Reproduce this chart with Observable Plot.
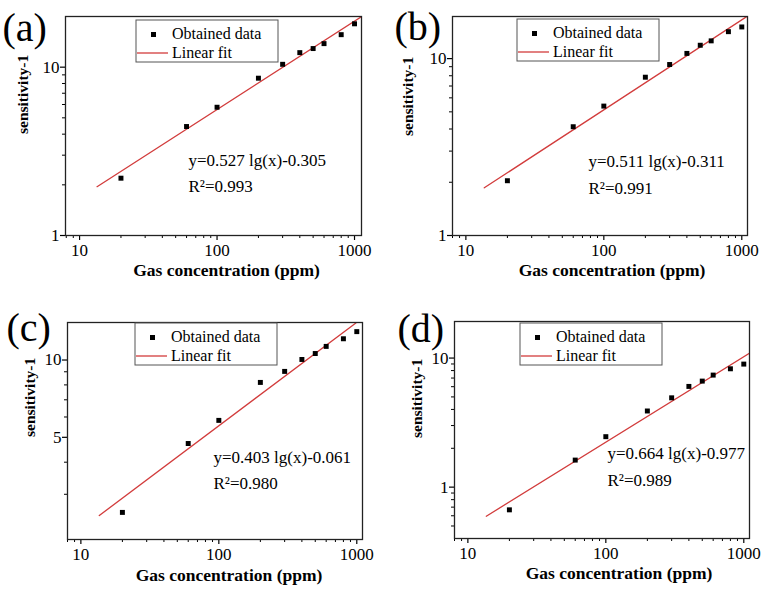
<!DOCTYPE html>
<html><head><meta charset="utf-8">
<script src="https://cdn.jsdelivr.net/npm/d3@7"></script>
<script src="https://cdn.jsdelivr.net/npm/@observablehq/plot@0.6"></script>
<style>
body{margin:0;background:#fff;}
#wrap{position:relative;width:763px;height:592px;background:#fff;overflow:hidden;}
#wrap > svg{position:absolute;}
</style></head><body><div id="wrap"></div>
<script>
// ---- data ----
const concentration = [20, 60, 100, 200, 300, 400, 500, 600, 800, 1000];
const sensitivityA = [2.19, 4.44, 5.78, 8.6, 10.4, 12.2, 12.9, 13.8, 15.6, 18.1];
const sensitivityB = [2.04, 4.12, 5.39, 7.85, 9.26, 10.7, 11.9, 12.6, 14.2, 15.1];
const sensitivityC = [2.55, 4.73, 5.82, 8.18, 9.03, 10.05, 10.6, 11.3, 12.1, 12.9];
const sensitivityD = [0.667, 1.62, 2.46, 3.89, 4.92, 6.03, 6.63, 7.38, 8.26, 8.98];
// linear-fit segments (start / end points)
const fitConcA = [13.4, 1120];  const fitSensA = [1.95, 19.9];
const fitConcB = [13.6, 1100];  const fitSensB = [1.86, 17.4];
const fitConcC = [13.6, 985];   const fitSensC = [2.48, 13.95];
const fitConcD = [13.6, 1099];  const fitSensD = [0.595, 10.9];
const panelLabels = ["(a)", "(b)", "(c)", "(d)"];
const equations = ["y=0.527 lg(x)-0.305", "y=0.511 lg(x)-0.311", "y=0.403 lg(x)-0.061", "y=0.664 lg(x)-0.977"];
const r2Labels = ["R\u00B2=0.993", "R\u00B2=0.991", "R\u00B2=0.980", "R\u00B2=0.989"];
const xTickValues = [10, 100, 1000];
const xMinorTicks = [8, 9, 20, 30, 40, 50, 60, 70, 80, 90, 200, 300, 400, 500, 600, 700, 800, 900];
const yTicksA = [1, 10], yTicksB = [1, 10], yTicksC = [5, 10], yTicksD = [1, 10];
const yMinorAB = [2, 3, 4, 5, 6, 7, 8, 9];
const yMinorC = [3, 4, 6, 7, 8, 9];
const yMinorD = [0.5, 0.6, 0.7, 0.8, 0.9, 2, 3, 4, 5, 6, 7, 8, 9];
const xTitle = "Gas concentration (ppm)";
const yTitle = "sensitivity-1";
const legendLabels = ["Obtained data", "Linear fit"];

// ---- layout ----
const SERIF = "'Liberation Serif','Times New Roman',serif";
const panels = [
  {left:0, top:0, w:380, h:296, ml:65, mr:19, mt:16, mb:61, xd:[7.9,1124], yd:[1,20], vals:sensitivityA, fc:fitConcA, fs:fitSensA, yt:yTicksA, ym:yMinorAB,
   lab:{x:2,b:40}, leg:{dx:71,dy:4}, eq:{dx:123,b1:149,b2:175}, xt:{dx:13,dy:40}, ytl:{dx:-42,dy:8}},
  {left:380, top:0, w:383, h:296, ml:72, mr:16, mt:16, mb:61, xd:[8,1100], yd:[1,17.3], vals:sensitivityB, fc:fitConcB, fs:fitSensB, yt:yTicksB, ym:yMinorAB,
   lab:{x:14,b:39}, leg:{dx:65,dy:3}, eq:{dx:136,b1:150,b2:177}, xt:{dx:12,dy:40}, ytl:{dx:-44,dy:10}},
  {left:0, top:300, w:380, h:292, ml:67, mr:18, mt:22, mb:53, xd:[8,1100], yd:[2,14], vals:sensitivityC, fc:fitConcC, fs:fitSensC, yt:yTicksC, ym:yMinorC,
   lab:{x:6,b:40}, leg:{dx:68,dy:1}, eq:{dx:146,b1:140,b2:166}, xt:{dx:14,dy:41}, ytl:{dx:-37,dy:6}},
  {left:380, top:300, w:383, h:292, ml:74, mr:14, mt:21, mb:54, xd:[8,1100], yd:[0.4,19.2], vals:sensitivityD, fc:fitConcD, fs:fitSensD, yt:yTicksD, ym:yMinorD,
   lab:{x:17,b:41}, leg:{dx:66,dy:2}, eq:{dx:153,b1:137,b2:164}, xt:{dx:17,dy:40}, ytl:{dx:-37,dy:8}}
];

const wrap = document.getElementById("wrap");
panels.forEach((p, i) => {
  const pts = concentration.map((c, k) => ({c, s: p.vals[k]}));
  const fit = p.fc.map((c, k) => ({c, s: p.fs[k]}));
  const xm = xMinorTicks.filter(v => v >= p.xd[0] && v <= p.xd[1]);
  const ym = p.ym.filter(v => v >= p.yd[0] && v <= p.yd[1]);
  const svg = Plot.plot({
    width: p.w, height: p.h,
    marginLeft: p.ml, marginRight: p.mr, marginTop: p.mt, marginBottom: p.mb,
    style: {fontFamily: SERIF, fontSize: "17px", color: "#000", background: "transparent", overflow: "visible"},
    x: {type: "log", domain: p.xd},
    y: {type: "log", domain: p.yd},
    marks: [
      Plot.axisX({ticks: xm, tickSize: 3, tickFormat: () => "", label: null, strokeWidth: 1}),
      Plot.axisX({ticks: xTickValues, tickSize: 5, tickPadding: 3, tickFormat: d => String(d), label: null, strokeWidth: 1.2}),
      Plot.axisY({ticks: ym, tickSize: 3, tickFormat: () => "", label: null, strokeWidth: 1}),
      Plot.axisY({ticks: p.yt, tickSize: 5, tickPadding: 1, tickFormat: d => String(d), label: null, strokeWidth: 1.2}),
      Plot.line(fit, {x: "c", y: "s", stroke: "#d23c3c", strokeWidth: 1.3, clip: true}),
      Plot.dot(pts, {x: "c", y: "s", symbol: "square", fill: "#000", r: 2.8}),
      Plot.frame({stroke: "#222", strokeWidth: 1.3}),
      Plot.text([equations[i]], {text: d => d, frameAnchor: "top-left", dx: p.eq.dx, dy: p.eq.b1, textAnchor: "start", lineAnchor: "bottom", fontSize: 17}),
      Plot.text([r2Labels[i]], {text: d => d, frameAnchor: "top-left", dx: p.eq.dx, dy: p.eq.b2, textAnchor: "start", lineAnchor: "bottom", fontSize: 17}),
      Plot.text([xTitle], {text: d => d, frameAnchor: "bottom", dx: p.xt.dx, dy: p.xt.dy, lineAnchor: "bottom", fontWeight: "bold", fontSize: 17.5}),
      Plot.text([yTitle], {text: d => d, frameAnchor: "left", dx: p.ytl.dx, dy: p.ytl.dy, rotate: -90, fontWeight: "bold", fontSize: 15.5}),
      Plot.text([panelLabels[i]], {text: d => d, frameAnchor: "top-left", dx: p.lab.x - p.ml, dy: p.lab.b - p.mt, textAnchor: "start", lineAnchor: "bottom", fontSize: 40})
    ]
  });
  svg.style.left = p.left + "px";
  svg.style.top = p.top + "px";
  // legend box
  const s = d3.select(svg);
  const bx = p.ml + p.leg.dx, by = p.mt + p.leg.dy;
  const g = s.append("g").attr("font-family", SERIF).attr("font-size", 16).attr("text-anchor", "start");
  g.append("rect").attr("x", bx).attr("y", by).attr("width", 142).attr("height", 42)
    .attr("fill", "#fff").attr("stroke", "#555").attr("stroke-width", 1);
  g.append("rect").attr("x", bx + 15).attr("y", by + 12).attr("width", 5).attr("height", 5).attr("fill", "#000");
  g.append("text").attr("x", bx + 36).attr("y", by + 19).attr("text-anchor", "start").text(legendLabels[0]);
  g.append("line").attr("x1", bx + 1).attr("x2", bx + 32).attr("y1", by + 33).attr("y2", by + 33)
    .attr("stroke", "#d23c3c").attr("stroke-width", 1.3);
  g.append("text").attr("x", bx + 36).attr("y", by + 38).attr("text-anchor", "start").text(legendLabels[1]);
  wrap.appendChild(svg);
});
</script></body></html>
